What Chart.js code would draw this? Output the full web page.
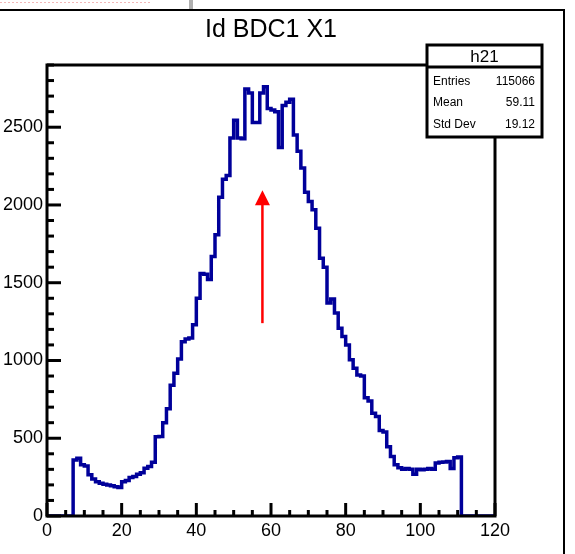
<!DOCTYPE html>
<html>
<head>
<meta charset="utf-8">
<script src="https://cdn.jsdelivr.net/npm/chart.js@4.4.1/dist/chart.umd.min.js"></script>
<style>
  html, body { margin: 0; padding: 0; background: #ffffff; }
  #wrap { position: relative; width: 575px; height: 554px; }
  canvas { display: block; }
</style>
</head>
<body>
<div id="wrap"><canvas id="c" width="575" height="554"></canvas></div>
<script>
// ---- data (bin width 1, range 0..120) ----
const histTitle = 'Id BDC1 X1';
const binCounts = [
  0, 0, 0, 0, 0, 0, 0, 360, 372, 330,          // 0-9
  322, 265, 238, 220, 210, 204, 199, 195, 188, 184, // 10-19
  221, 228, 248, 254, 268, 278, 307, 318, 345, 510, // 20-29
  512, 600, 690, 840, 918, 1010, 1120, 1138, 1145, 1229, // 30-39
  1400, 1560, 1555, 1520, 1669, 1808, 2050, 2165, 2190, 2430, // 40-49
  2545, 2430, 2425, 2745, 2720, 2530, 2530, 2720, 2760, 2620, // 50-59
  2610, 2600, 2370, 2640, 2660, 2680, 2450, 2345, 2237, 2081, // 60-69
  2023, 1969, 1851, 1658, 1600, 1369, 1395, 1305, 1208, 1154, // 70-79
  1100, 1004, 950, 907, 900, 760, 740, 660, 640, 550,   // 80-89
  540, 446, 382, 330, 310, 300, 305, 300, 268, 300,     // 90-99
  298, 300, 305, 300, 340, 345, 348, 350, 305, 375,     // 100-109
  380, 0, 0, 0, 0, 0, 0, 0, 0, 0                        // 110-119
];
const xTickValues = [0, 20, 40, 60, 80, 100, 120];
const yTickValues = [0, 500, 1000, 1500, 2000, 2500];
const xRange = [0, 120];
const yRange = [0, 2900];
const statName = 'h21';
const statLabels = ['Entries', 'Mean', 'Std Dev'];
const statValues = ['115066', '59.11', '19.12'];
const arrowX = [57.7, 57.7];
const arrowY = [1240, 2095];

// ---- histogram outline: one point per bin low edge, horizontal then vertical ----
const histPoints = binCounts.map((v, i) => ({ x: xRange[0] + i, y: v }));
histPoints.push({ x: xRange[1], y: 0 });

const FONT = "'Liberation Sans', Arial, Helvetica, sans-serif";

const decorPlugin = {
  id: 'decor',
  beforeDraw(chart) {
    const ctx = chart.ctx;
    ctx.save();
    ctx.fillStyle = '#ffffff';
    ctx.fillRect(0, 0, chart.width, chart.height);
    // top strip remnants
    ctx.strokeStyle = '#f2b8b8';
    ctx.lineWidth = 1;
    ctx.setLineDash([2, 2]);
    ctx.beginPath(); ctx.moveTo(0, 2.5); ctx.lineTo(150, 2.5); ctx.stroke();
    ctx.setLineDash([]);
    ctx.fillStyle = '#b0b0b0';
    ctx.fillRect(189, 0, 4, 9);
    // outer window border
    ctx.strokeStyle = '#000';
    ctx.lineWidth = 2;
    ctx.beginPath();
    ctx.moveTo(0, 10); ctx.lineTo(564, 10); ctx.lineTo(564, 554);
    ctx.stroke();
    ctx.restore();
  },
  afterDatasetsDraw(chart) {
    const ctx = chart.ctx;
    const xs = chart.scales.x, ys = chart.scales.y;
    const a = chart.chartArea;
    ctx.save();
    // red arrow
    const ax = xs.getPixelForValue(arrowX[0]);
    const ay0 = ys.getPixelForValue(arrowY[0]);
    const ay1 = ys.getPixelForValue(arrowY[1]);
    ctx.strokeStyle = '#ff0000';
    ctx.fillStyle = '#ff0000';
    ctx.lineWidth = 2.5;
    ctx.beginPath(); ctx.moveTo(ax, ay0); ctx.lineTo(ax, ay1 + 12); ctx.stroke();
    ctx.beginPath();
    ctx.moveTo(ax, ay1);
    ctx.lineTo(ax - 7.5, ay1 + 15);
    ctx.lineTo(ax + 7.5, ay1 + 15);
    ctx.closePath(); ctx.fill();

    // frame
    ctx.strokeStyle = '#000';
    ctx.lineWidth = 3;
    ctx.strokeRect(a.left, a.top, a.right - a.left, a.bottom - a.top);
    // y ticks (inward)
    for (let v = yRange[0]; v <= yRange[1]; v += 100) {
      const py = ys.getPixelForValue(v);
      const major = yTickValues.includes(v);
      ctx.beginPath(); ctx.moveTo(a.left, py); ctx.lineTo(a.left + (major ? 14 : 7), py); ctx.stroke();
    }
    // x ticks (inward)
    for (let v = xRange[0]; v <= xRange[1]; v += 5) {
      const px = xs.getPixelForValue(v);
      const major = xTickValues.includes(v);
      ctx.beginPath(); ctx.moveTo(px, a.bottom); ctx.lineTo(px, a.bottom - (major ? 13 : 6)); ctx.stroke();
    }
    ctx.restore();
  },
  afterDraw(chart) {
    const ctx = chart.ctx;
    ctx.save();
    // stats box
    const L = 427, T = 45, R = 542, B = 137, H = 67;
    ctx.fillStyle = '#fff';
    ctx.fillRect(L, T, R - L, B - T);
    ctx.strokeStyle = '#000';
    ctx.lineWidth = 3;
    ctx.strokeRect(L, T, R - L, B - T);
    ctx.beginPath(); ctx.moveTo(L, H); ctx.lineTo(R, H); ctx.stroke();
    ctx.fillStyle = '#000';
    ctx.textBaseline = 'middle';
    ctx.textAlign = 'center';
    ctx.font = '17px ' + FONT;
    ctx.fillText(statName, (L + R) / 2, 57);
    ctx.font = '12px ' + FONT;
    const rows = [82, 103, 125];
    statLabels.forEach((lab, i) => {
      ctx.textAlign = 'left';
      ctx.fillText(lab, L + 6, rows[i]);
      ctx.textAlign = 'right';
      ctx.fillText(statValues[i], R - 7, rows[i]);
    });
    ctx.restore();
  }
};

new Chart(document.getElementById('c'), {
  type: 'line',
  data: {
    datasets: [{
      data: histPoints,
      stepped: 'before',
      borderColor: '#00009a',
      borderWidth: 3.5,
      pointRadius: 0,
      fill: false,
      tension: 0
    }]
  },
  options: {
    responsive: false,
    animation: false,
    devicePixelRatio: 1,
    layout: { padding: { left: 0, right: 80, top: 0, bottom: 0 } },
    plugins: {
      legend: { display: false },
      tooltip: { enabled: false },
      title: {
        display: true,
        text: histTitle,
        fullSize: false,
        color: '#000',
        font: { family: FONT, size: 25, weight: 'normal', lineHeight: 1.2 },
        padding: { top: 15, bottom: 20 }
      }
    },
    scales: {
      x: {
        type: 'linear',
        min: xRange[0], max: xRange[1],
        afterBuildTicks: s => { s.ticks = xTickValues.map(v => ({ value: v })); },
        afterFit: s => { s.height = 38; },
        grid: { display: false, drawTicks: false },
        border: { display: false },
        ticks: { color: '#000', font: { family: FONT, size: 18 }, padding: 4, maxRotation: 0, autoSkip: false,
                 callback: v => String(v) }
      },
      y: {
        type: 'linear',
        min: yRange[0], max: yRange[1],
        afterBuildTicks: s => { s.ticks = yTickValues.map(v => ({ value: v })); },
        afterFit: s => { s.width = 47; },
        grid: { display: false, drawTicks: false },
        border: { display: false },
        ticks: { color: '#000', font: { family: FONT, size: 18 }, padding: 4, autoSkip: false,
                 callback: v => String(v) }
      }
    }
  },
  plugins: [decorPlugin]
});
</script>
</body>
</html>
